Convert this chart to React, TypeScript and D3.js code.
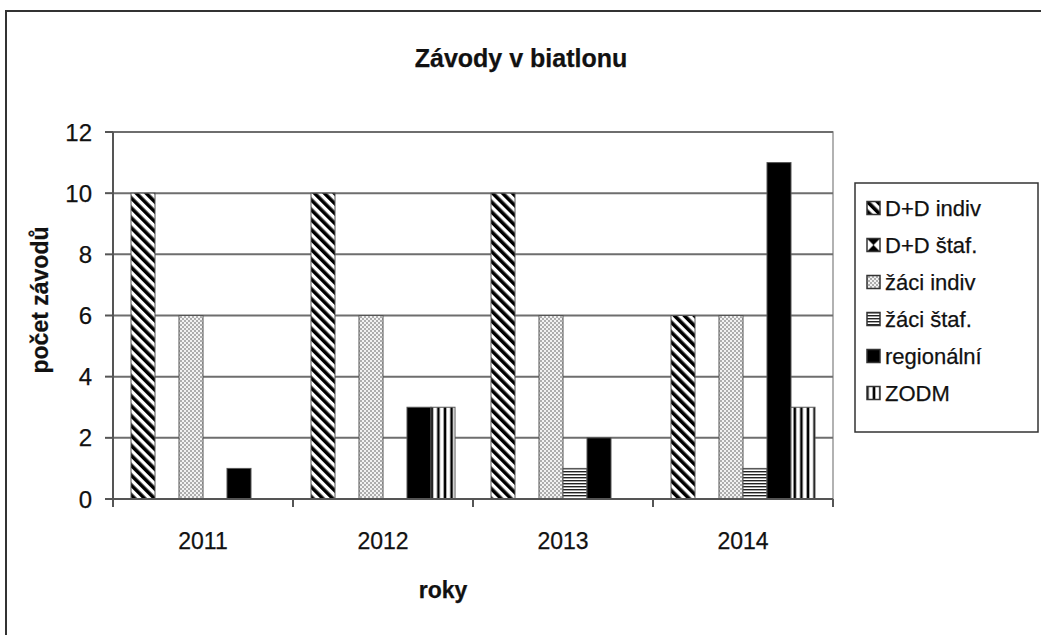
import { useEffect, useRef } from 'react';
import * as d3 from 'd3';

const years = ['2011', '2012', '2013', '2014'];
const seriesNames = ['D+D indiv', 'D+D štaf.', 'žáci indiv', 'žáci štaf.', 'regionální', 'ZODM'];
const ddIndiv = [10, 10, 10, 6];
const ddStaf = [0, 0, 0, 0];
const zaciIndiv = [6, 6, 6, 6];
const zaciStaf = [0, 0, 1, 1];
const regionalni = [1, 3, 2, 11];
const zodm = [0, 3, 0, 3];
const yTicks = [0, 2, 4, 6, 8, 10, 12];

const seriesValues = [ddIndiv, ddStaf, zaciIndiv, zaciStaf, regionalni, zodm];
const fills = ['url(#p-diag)', 'url(#p-bow)', 'url(#p-dots)', 'url(#p-hline)', '#000000', 'url(#p-vline)'];

const W = 1041;
const H = 635;
const PLOT = { left: 113, right: 833, top: 132, bottom: 499 };
const FONT = '"Liberation Sans", Arial, sans-serif';

export default function App() {
  const svgRef = useRef<SVGSVGElement>(null);

  useEffect(() => {
    document.body.style.margin = '0';
    if (!svgRef.current) return;
    const svg = d3.select(svgRef.current);
    svg.selectAll('*').remove();

    const label = (x: number, y: number, txt: string, size: number, opts: any = {}) =>
      svg
        .append('text')
        .attr('transform', `translate(${x},${y}) rotate(${opts.rotate ?? 0})`)
        .attr('text-anchor', opts.anchor ?? 'middle')
        .attr('font-family', FONT)
        .attr('font-size', size)
        .attr('font-weight', opts.bold ? 'bold' : 'normal')
        .attr('fill', '#111')
        .attr('stroke', '#111')
        .attr('stroke-width', 0.25)
        .text(txt);

    // patterns
    const defs = svg.append('defs');
    const diag = defs
      .append('pattern')
      .attr('id', 'p-diag')
      .attr('patternUnits', 'userSpaceOnUse')
      .attr('width', 7)
      .attr('height', 7)
      .attr('patternTransform', 'rotate(-45)');
    diag.append('rect').attr('width', 7).attr('height', 7).attr('fill', '#fff');
    diag.append('rect').attr('width', 3.6).attr('height', 7).attr('fill', '#000');

    const dots = defs
      .append('pattern')
      .attr('id', 'p-dots')
      .attr('patternUnits', 'userSpaceOnUse')
      .attr('width', 4)
      .attr('height', 4);
    dots.append('rect').attr('width', 4).attr('height', 4).attr('fill', '#f2f2f2');
    dots.append('circle').attr('cx', 1).attr('cy', 1).attr('r', 0.8).attr('fill', '#555');
    dots.append('circle').attr('cx', 3).attr('cy', 3).attr('r', 0.8).attr('fill', '#555');

    const hline = defs
      .append('pattern')
      .attr('id', 'p-hline')
      .attr('patternUnits', 'userSpaceOnUse')
      .attr('width', 4)
      .attr('height', 3);
    hline.append('rect').attr('width', 4).attr('height', 3).attr('fill', '#fff');
    hline.append('rect').attr('width', 4).attr('height', 1.4).attr('fill', '#222');

    const vline = defs
      .append('pattern')
      .attr('id', 'p-vline')
      .attr('patternUnits', 'userSpaceOnUse')
      .attr('width', 6.6)
      .attr('height', 4);
    vline.append('rect').attr('width', 6.6).attr('height', 4).attr('fill', '#fff');
    vline.append('rect').attr('x', 1.5).attr('width', 2.6).attr('height', 4).attr('fill', '#000');

    // hourglass fill, sized to the shape it fills
    const bow = defs
      .append('pattern')
      .attr('id', 'p-bow')
      .attr('patternUnits', 'objectBoundingBox')
      .attr('patternContentUnits', 'objectBoundingBox')
      .attr('width', 1)
      .attr('height', 1);
    bow.append('rect').attr('width', 1).attr('height', 1).attr('fill', '#fff');
    bow.append('path').attr('d', 'M0,0 L1,0 L0.5,0.5 Z M0,1 L1,1 L0.5,0.5 Z').attr('fill', '#000');

    // outer frame
    svg
      .append('rect')
      .attr('x', 6)
      .attr('y', 11)
      .attr('width', W + 20)
      .attr('height', H + 20)
      .attr('fill', '#fff')
      .attr('stroke', '#333')
      .attr('stroke-width', 2);

    const x0 = d3
      .scaleBand()
      .domain(years)
      .range([PLOT.left, PLOT.right])
      .paddingInner(0.2)
      .paddingOuter(0.1);
    const x1 = d3.scaleBand().domain(seriesNames).range([0, x0.bandwidth()]).padding(0);
    const y = d3.scaleLinear().domain([0, 12]).range([PLOT.bottom, PLOT.top]);

    // plot frame + gridlines
    svg
      .append('rect')
      .attr('x', PLOT.left)
      .attr('y', PLOT.top)
      .attr('width', PLOT.right - PLOT.left)
      .attr('height', PLOT.bottom - PLOT.top)
      .attr('fill', '#fff')
      .attr('stroke', '#999')
      .attr('stroke-width', 1.5);

    svg
      .append('g')
      .selectAll('line')
      .data(yTicks.filter(t => t > 0))
      .enter()
      .append('line')
      .attr('x1', PLOT.left)
      .attr('x2', PLOT.right)
      .attr('y1', (d: number) => y(d))
      .attr('y2', (d: number) => y(d))
      .attr('stroke', '#6e6e6e')
      .attr('stroke-width', 2);

    // bars
    years.forEach((yr, i) => {
      seriesNames.forEach((s, j) => {
        const v = seriesValues[j][i];
        if (!v) return;
        svg
          .append('rect')
          .attr('x', (x0(yr) ?? 0) + (x1(s) ?? 0))
          .attr('y', y(v))
          .attr('width', x1.bandwidth())
          .attr('height', y(0) - y(v))
          .attr('fill', fills[j])
          .attr('stroke', '#555')
          .attr('stroke-width', 1);
      });
    });

    // y axis
    const yAxis = svg.append('g').attr('transform', `translate(${PLOT.left},0)`);
    yAxis
      .append('line')
      .attr('y1', PLOT.top)
      .attr('y2', PLOT.bottom)
      .attr('stroke', '#555')
      .attr('stroke-width', 2);
    yTicks.forEach(t => {
      yAxis
        .append('line')
        .attr('x1', -8)
        .attr('x2', 0)
        .attr('y1', y(t))
        .attr('y2', y(t))
        .attr('stroke', '#555')
        .attr('stroke-width', 2);
      label(PLOT.left - 21, y(t) + 8.5, String(t), 24, { anchor: 'end' });
    });

    // x axis
    svg
      .append('line')
      .attr('x1', PLOT.left - 8)
      .attr('x2', PLOT.right)
      .attr('y1', PLOT.bottom)
      .attr('y2', PLOT.bottom)
      .attr('stroke', '#555')
      .attr('stroke-width', 2);
    const step = x0.step();
    d3.range(years.length + 1).forEach(k => {
      const xx = PLOT.left + k * step;
      svg
        .append('line')
        .attr('x1', xx)
        .attr('x2', xx)
        .attr('y1', PLOT.bottom)
        .attr('y2', PLOT.bottom + 8)
        .attr('stroke', '#555')
        .attr('stroke-width', 2);
    });
    years.forEach(yr => {
      label((x0(yr) ?? 0) + x0.bandwidth() / 2, 549, yr, 23);
    });

    // titles
    label(521, 67, 'Závody v biatlonu', 25, { bold: true });
    label(443, 598, 'roky', 23, { bold: true });
    label(48, 300, 'počet závodů', 23, { bold: true, rotate: -90 });

    // legend
    svg
      .append('rect')
      .attr('x', 855)
      .attr('y', 183)
      .attr('width', 183)
      .attr('height', 249)
      .attr('fill', '#fff')
      .attr('stroke', '#333')
      .attr('stroke-width', 1.5);
    seriesNames.forEach((s, j) => {
      const cy = 208 + j * 37;
      svg
        .append('rect')
        .attr('x', 867)
        .attr('y', cy - 6.5)
        .attr('width', 13)
        .attr('height', 13)
        .attr('fill', fills[j])
        .attr('stroke', '#333')
        .attr('stroke-width', 1.5);
      label(885, cy + 8, s, 22, { anchor: 'start' });
    });
  }, []);

  return <svg ref={svgRef} width={W} height={H} style={{ display: 'block', background: '#fff' }} />;
}
